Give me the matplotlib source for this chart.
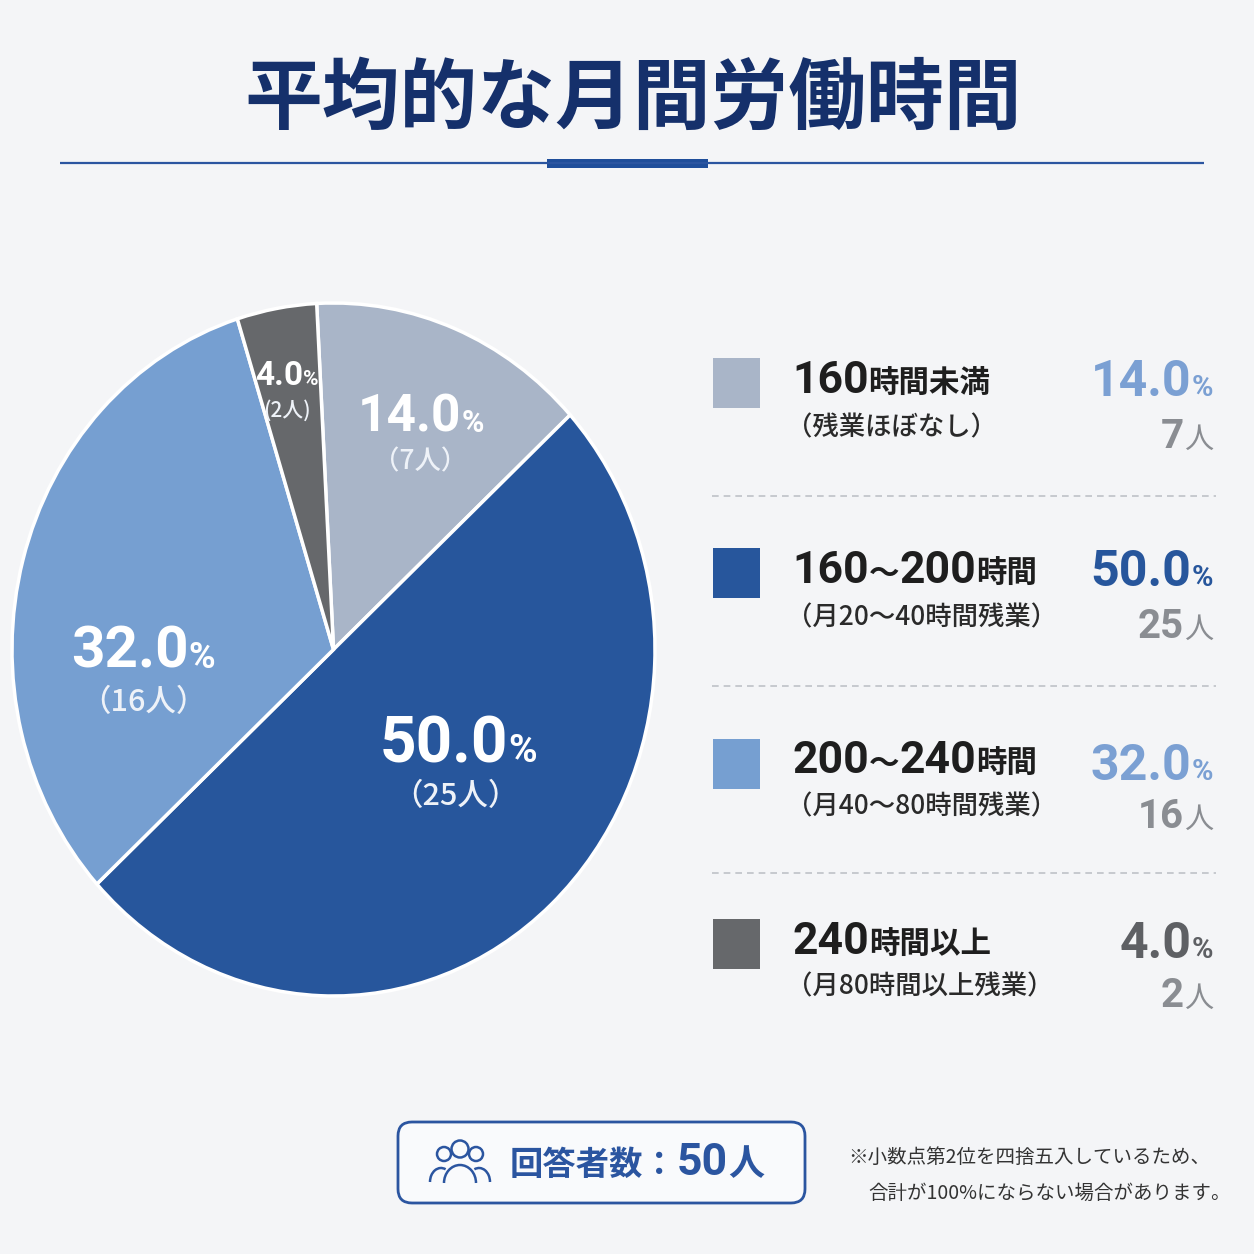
import matplotlib
matplotlib.use('Agg')
import matplotlib.pyplot as plt
from matplotlib.patches import Rectangle, FancyBboxPatch, Circle, Arc
from matplotlib.offsetbox import TextArea, HPacker, AnnotationBbox

# ---------------- data ----------------
title = '平均的な月間労働時間'
range_nums = ['160', '160～200', '200～240', '240']
range_units = ['時間未満', '時間', '時間', '時間以上']
subtitles = ['（残業ほぼなし）', '（月20～40時間残業）', '（月40～80時間残業）', '（月80時間以上残業）']
percents = [14.0, 50.0, 32.0, 4.0]
counts = [7, 25, 16, 2]
total_label = '回答者数：'
total_count = 50
note_lines = ['※小数点第2位を四捨五入しているため、', '合計が100%にならない場合があります。']

# ---------------- style ----------------
slice_colors = ['#A9B5C8', '#27569C', '#769FD1', '#66686B']
pct_colors = ['#7BA0D3', '#27569C', '#7BA0D3', '#5E6064']
NAVY = '#15306B'
BLUE = '#2B55A0'
NUM = ['Roboto', 'Noto Sans CJK JP']
JP = ['Noto Sans CJK JP', 'DejaVu Sans']

W = H = 1254
BG = '#F4F5F7'
fig = plt.figure(figsize=(12.54, 12.54), dpi=100, facecolor=BG)

# pie
pax = fig.add_axes([12 / W, 1 - 996 / H, 643 / W, 693 / H])
wedges, _ = pax.pie(percents, colors=slice_colors, startangle=93, counterclock=False,
                    wedgeprops=dict(edgecolor='white', linewidth=2.5))
pax.set_aspect('auto')
pax.set_xlim(-1, 1)
pax.set_ylim(-1, 1)
pax.axis('off')

# overlay in pixel coordinates
ax = fig.add_axes([0, 0, 1, 1])
ax.set_xlim(0, W)
ax.set_ylim(H, 0)
ax.axis('off')
ax.patch.set_alpha(0)


def mixed(x, y, parts, ha='left', va='center', sep=0):
    kids = [TextArea(s, textprops=dict(fontsize=fs, color=c, fontweight=fw, family=fam))
            for s, fs, c, fw, fam in parts]
    pack = HPacker(children=kids, align='baseline', pad=0, sep=sep)
    bx = {'left': 0, 'center': 0.5, 'right': 1}[ha]
    by = {'center': 0.5, 'top': 1, 'bottom': 0}[va]
    ab = AnnotationBbox(pack, (x, y), xycoords='data', frameon=False,
                        box_alignment=(bx, by), pad=0, annotation_clip=False)
    ax.add_artist(ab)


# title
ax.text(633, 100, title, fontsize=56, fontweight='bold', color=NAVY,
        ha='center', va='center', family=JP)
ax.plot([60, 1204], [163, 163], color=BLUE, lw=1.6, solid_capstyle='butt')
ax.add_patch(Rectangle((547, 159), 161, 9, fc='#1F4E9A', ec='none'))

# pie labels
lab_pos = [(421, 418), (458, 745), (143, 652), (287, 376)]
sub_pos = [(420, 462), (455, 797), (143, 703), (287, 411)]
big_fs = [37, 46, 42, 24]
pc_fs = [22, 28, 26, 15]
sub_fs = [19, 22, 22, 15]
for i, p in enumerate(percents):
    mixed(lab_pos[i][0], lab_pos[i][1],
          [(f'{p:.1f}', big_fs[i], 'white', 'bold', NUM),
           ('%', pc_fs[i], 'white', 'bold', NUM)], ha='center')
    sub = f'({counts[i]}人)' if percents[i] < 10 else f'（{counts[i]}人）'
    ax.text(sub_pos[i][0], sub_pos[i][1], sub, fontsize=sub_fs[i],
            color='#EEF2F8', ha='center', va='center', family=JP, fontweight='medium')

# legend
sq_y = [383, 573, 764, 944]
title_y = [381, 571, 761, 942]
sub_y = [428, 618, 807, 987]
pct_y = [383, 573, 766, 945]
cnt_y = [437, 627, 817, 996]
sep_y = [496, 686, 873]
for i in range(len(percents)):
    ax.add_patch(Rectangle((713, sq_y[i] - 25), 47, 50, fc=slice_colors[i], ec='none'))
    parts = []
    for k, seg in enumerate(range_nums[i].split('～')):
        if k:
            parts.append(('～', 22, '#1E1E1E', 'bold', JP))
        parts.append((seg, 32, '#1E1E1E', 'bold', NUM))
    parts.append((range_units[i], 22, '#1E1E1E', 'bold', JP))
    mixed(792, title_y[i], parts, ha='left')
    ax.text(786, sub_y[i], subtitles[i], fontsize=19, color='#2A2A2A', ha='left',
            va='center', family=JP, fontweight='medium')
    mixed(1213, pct_y[i], [(f'{percents[i]:.1f}', 36, pct_colors[i], 'bold', NUM),
                           ('%', 21, pct_colors[i], 'bold', NUM)], ha='right')
    mixed(1213, cnt_y[i], [(str(counts[i]), 29, '#8A8D92', 'bold', NUM),
                           ('人', 21, '#8A8D92', 'normal', JP)], ha='right')
for y in sep_y:
    ax.plot([712, 1216], [y, y], color='#BEC2C8', lw=1.2, ls=(0, (4, 3)))

# respondents box
ax.add_patch(FancyBboxPatch((398, 1122), 407, 81, boxstyle='round,pad=0,rounding_size=14',
                            fc='#F9FAFC', ec=BLUE, lw=2))
# people icon
ax.add_patch(Circle((444, 1154), 7, fill=False, ec=BLUE, lw=1.8))
ax.add_patch(Circle((476, 1154), 7, fill=False, ec=BLUE, lw=1.8))
ax.add_patch(Arc((441, 1182), 22, 28, theta1=180, theta2=290, ec=BLUE, lw=1.8))
ax.add_patch(Arc((479, 1182), 22, 28, theta1=250, theta2=360, ec=BLUE, lw=1.8))
ax.add_patch(Circle((460, 1149), 8.5, fc='#F9FAFC', ec=BLUE, lw=1.8))
ax.add_patch(Arc((460, 1183), 32, 36, theta1=180, theta2=360, ec=BLUE, lw=1.8))
mixed(510, 1163, [(total_label, 24, BLUE, 'bold', JP),
                  (str(total_count), 32, BLUE, 'bold', NUM),
                  ('人', 26, BLUE, 'bold', JP)], ha='left')

# note
ax.text(848, 1157, note_lines[0], fontsize=14, color='#333333', ha='left', va='center', family=JP)
ax.text(868, 1193, note_lines[1], fontsize=14, color='#333333', ha='left', va='center', family=JP)

fig.savefig('out.png', dpi=100, facecolor=BG)
